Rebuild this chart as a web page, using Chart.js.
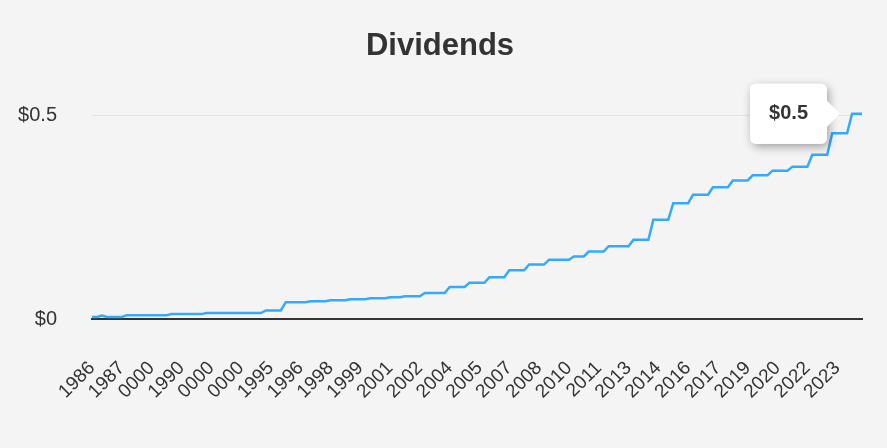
<!DOCTYPE html>
<html>
<head>
<meta charset="utf-8">
<title>Dividends</title>
<script src="https://cdn.jsdelivr.net/npm/chart.js@4.4.1/dist/chart.umd.min.js"></script>
<style>
    html, body {
        margin: 0;
        padding: 0;
        background: #f4f4f4;
    }
    #wrap {
        width: 887px;
        height: 448px;
    }
</style>
</head>
<body>
<div id="wrap"><canvas id="dividendChart" width="887" height="448"></canvas></div>
<script>
// quarterly dividend per share, 1986 Q1 .. 2024 Q4 (one row per year)
const dividends = [
    0.005, 0.005, 0.0085, 0.005,      // 1986
    0.005, 0.005, 0.005, 0.0095,      // 1987
    0.0095, 0.0095, 0.0095, 0.0095,   // 1988
    0.0095, 0.0095, 0.0095, 0.0095,   // 1989
    0.012, 0.012, 0.012, 0.012,       // 1990
    0.012, 0.012, 0.012, 0.0145,      // 1991
    0.0145, 0.0145, 0.0145, 0.0145,   // 1992
    0.0145, 0.0145, 0.0145, 0.0145,   // 1993
    0.0145, 0.0145, 0.0145, 0.021,    // 1994
    0.021, 0.021, 0.021, 0.041,       // 1995
    0.041, 0.041, 0.041, 0.041,       // 1996
    0.0435, 0.0435, 0.0435, 0.0435,   // 1997
    0.046, 0.046, 0.046, 0.046,       // 1998
    0.0485, 0.0485, 0.0485, 0.0485,   // 1999
    0.051, 0.051, 0.051, 0.051,       // 2000
    0.0535, 0.0535, 0.0535, 0.056,    // 2001
    0.056, 0.056, 0.056, 0.064,       // 2002
    0.064, 0.064, 0.064, 0.064,       // 2003
    0.079, 0.079, 0.079, 0.079,       // 2004
    0.089, 0.089, 0.089, 0.089,       // 2005
    0.103, 0.103, 0.103, 0.103,       // 2006
    0.12, 0.12, 0.12, 0.12,           // 2007
    0.134, 0.134, 0.134, 0.134,       // 2008
    0.146, 0.146, 0.146, 0.146,       // 2009
    0.146, 0.154, 0.154, 0.154,       // 2010
    0.166, 0.166, 0.166, 0.166,       // 2011
    0.179, 0.179, 0.179, 0.179,       // 2012
    0.179, 0.195, 0.195, 0.195,       // 2013
    0.195, 0.244, 0.244, 0.244,       // 2014
    0.244, 0.285, 0.285, 0.285,       // 2015
    0.285, 0.306, 0.306, 0.306,       // 2016
    0.306, 0.324, 0.324, 0.324,       // 2017
    0.324, 0.341, 0.341, 0.341,       // 2018
    0.341, 0.354, 0.354, 0.354,       // 2019
    0.354, 0.365, 0.365, 0.365,       // 2020
    0.365, 0.375, 0.375, 0.375,       // 2021
    0.375, 0.404, 0.404, 0.404,       // 2022
    0.404, 0.457, 0.457, 0.457,       // 2023
    0.457, 0.505, 0.505, 0.505        // 2024
];

// labels shown under the axis, one every 6 quarters (as in the source, bad dates read 0000)
const tickLabels = ['1986', '1987', '0000', '1990', '0000', '0000', '1995', '1996', '1998',
    '1999', '2001', '2002', '2004', '2005', '2007', '2008', '2010', '2011', '2013', '2014',
    '2016', '2017', '2019', '2020', '2022', '2023'];
const tickEvery = 6;

const yTicks = [0, 0.5];

// one category per quarter
const quarters = [];
for (let year = 1986; year <= 2024; year++) {
    for (let q = 1; q <= 4; q++) {
        quarters.push(year + ' Q' + q);
    }
}

const fontFamily = "'Liberation Sans', Arial, Helvetica, sans-serif";
const textColor = '#333333';

// white shadowed box under the tooltip
const tooltipShadow = {
    id: 'tooltipShadow',
    beforeTooltipDraw(chart, args) {
        const tt = args.tooltip;
        if (!tt || tt.opacity === 0) return;
        const ctx = chart.ctx;
        ctx.save();
        ctx.shadowColor = 'rgba(0, 0, 0, 0.35)';
        ctx.shadowBlur = 10;
        ctx.shadowOffsetX = 2;
        ctx.shadowOffsetY = 3;
        ctx.fillStyle = '#ffffff';
        ctx.beginPath();
        ctx.roundRect(tt.x, tt.y, tt.width, tt.height, 6);
        ctx.fill();
        ctx.restore();
    }
};

const ctx = document.getElementById('dividendChart').getContext('2d');
const dividendChart = new Chart(ctx, {
    type: 'line',
    data: {
        labels: quarters,
        datasets: [{
            label: 'Dividends',
            data: dividends,
            borderColor: '#33aaff',
            backgroundColor: '#33aaff',
            borderWidth: 2.5,
            pointRadius: 0,
            pointHoverRadius: 0,
            tension: 0,
            fill: false
        }]
    },
    options: {
        responsive: false,
        animation: false,
        layout: {
            padding: { left: 18, right: 25, top: 0, bottom: 0 }
        },
        plugins: {
            legend: { display: false },
            title: {
                display: true,
                text: 'Dividends',
                color: textColor,
                font: { family: fontFamily, size: 31, weight: 'bold' },
                padding: { top: 28, bottom: 10 }
            },
            tooltip: {
                enabled: true,
                backgroundColor: '#ffffff',
                bodyColor: textColor,
                bodyFont: { family: fontFamily, size: 20, weight: 'bold' },
                padding: { x: 19, y: 18 },
                cornerRadius: 6,
                caretSize: 13,
                caretPadding: 22,
                displayColors: false,
                xAlign: 'right',
                yAlign: 'center',
                callbacks: {
                    title: () => '',
                    label: (item) => '$' + (Math.round(item.parsed.y * 10) / 10)
                }
            }
        },
        scales: {
            x: {
                type: 'category',
                offset: false,
                grid: { display: false, drawTicks: false },
                border: { display: true, color: '#333333', width: 2 },
                ticks: {
                    autoSkip: false,
                    minRotation: 45,
                    maxRotation: 45,
                    padding: 38,
                    color: textColor,
                    font: { family: fontFamily, size: 19 },
                    callback: function (value, index) {
                        if (index % tickEvery === 0 && index / tickEvery < tickLabels.length) {
                            return tickLabels[index / tickEvery];
                        }
                        return null;
                    }
                },
                afterFit: function (scale) {
                    scale.height = 129;
                    scale.paddingLeft = 0;
                    scale.paddingRight = 0;
                }
            },
            y: {
                min: 0,
                max: 0.6,
                grid: { color: '#e3e3e3', lineWidth: 1, drawTicks: false },
                border: { display: false },
                ticks: {
                    padding: 35,
                    color: textColor,
                    font: { family: fontFamily, size: 20 },
                    callback: (value) => '$' + value
                },
                afterBuildTicks: function (scale) {
                    scale.ticks = yTicks.map(v => ({ value: v }));
                },
                afterFit: function (scale) {
                    scale.width = 74;
                }
            }
        }
    },
    plugins: [tooltipShadow]
});

// show the tooltip on the last quarter
const lastIndex = dividends.length - 1;
const lastPoint = dividendChart.getDatasetMeta(0).data[lastIndex];
dividendChart.tooltip.setActiveElements(
    [{ datasetIndex: 0, index: lastIndex }],
    { x: lastPoint.x, y: lastPoint.y }
);
dividendChart.update();
</script>
</body>
</html>
